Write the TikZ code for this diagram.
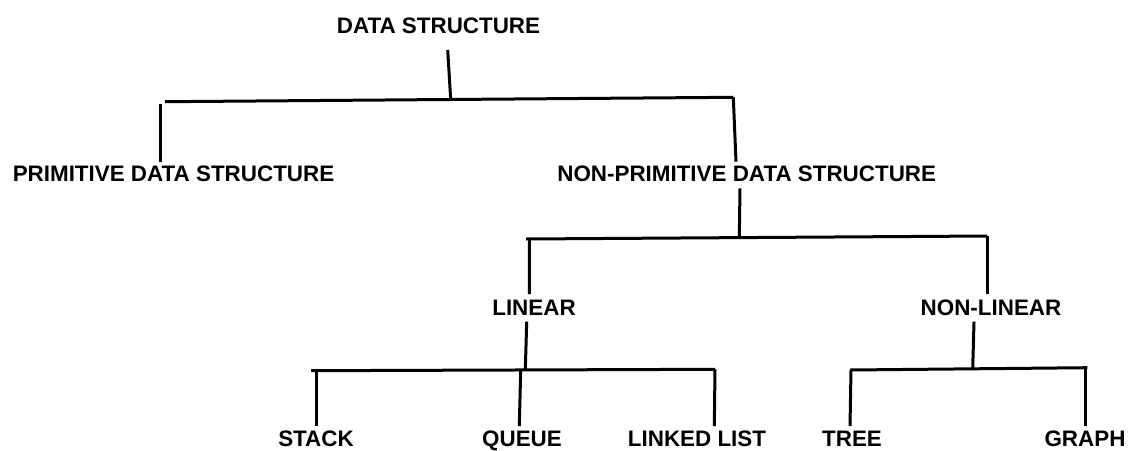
\documentclass[tikz,border=0pt]{standalone}
\usepackage{fontspec}
\setmainfont{Liberation Sans}
\begin{document}
\begin{tikzpicture}[x=1pt,y=-1pt,
  label/.style={font=\fontsize{22.4}{26}\selectfont\bfseries, anchor=base, inner sep=0pt},
  branch/.style={line width=3pt, black}]
\useasboundingbox[fill=white] (0,0) rectangle (1131,450);

% category labels
\node[label] (ds)     at (438.5,33.5)  {DATA STRUCTURE};
\node[label] (pds)    at (173.5,181.7) {PRIMITIVE DATA STRUCTURE};
\node[label] (npds)   at (746.7,181.7) {NON-PRIMITIVE DATA STRUCTURE};
\node[label] (lin)    at (534,315.7)   {LINEAR};
\node[label] (nonlin) at (991,315.7)   {NON-LINEAR};
\node[label] (stack)  at (316,446.5)   {STACK};
\node[label] (queue)  at (522,446.5)   {QUEUE};
\node[label] (llist)  at (697,446.5)   {LINKED LIST};
\node[label] (tree)   at (852,446.5)   {TREE};
\node[label] (graph)  at (1085,446.5)  {GRAPH};

% junction points of the tree
\coordinate (dsTop)    at (447.7,50);
\coordinate (dsJoin)   at (450.7,99.6);
\coordinate (b1L)      at (165,101.7);
\coordinate (b1R)      at (733.3,97.3);
\coordinate (pdsTop)   at (160.7,104);
\coordinate (pdsBot)   at (160.7,161.7);
\coordinate (npdsBot)  at (736,161.7);
\coordinate (npdsTop2) at (740,188.3);
\coordinate (npdsJoin) at (739.3,236.6);
\coordinate (b2L)      at (526,239);
\coordinate (b2R)      at (987.3,236);
\coordinate (linTop)   at (529.5,239);
\coordinate (linBot)   at (529.3,294);
\coordinate (nlBot)    at (987.3,294);
\coordinate (linS)     at (526.7,321.7);
\coordinate (linJoin)  at (525.3,370);
\coordinate (b3L)      at (311,370.7);
\coordinate (b3R)      at (715,369.3);
\coordinate (stTop)    at (316,370.7);
\coordinate (stBot)    at (316,426);
\coordinate (quTop)    at (520.7,370);
\coordinate (quBot)    at (519.3,426);
\coordinate (llBot)    at (714.3,426);
\coordinate (nlS)      at (974,321.7);
\coordinate (nlJoin)   at (972.7,369);
\coordinate (b4L)      at (850,370);
\coordinate (b4R)      at (1087.3,367.7);
\coordinate (trTop)    at (851,370);
\coordinate (trBot)    at (850,426);
\coordinate (grTop)    at (1085.5,367.7);
\coordinate (grBot)    at (1085.5,426);

% level 1
\draw[branch] (dsTop) -- (dsJoin);
\draw[branch] (b1L) -- (b1R);
\draw[branch] (pdsTop) -- (pdsBot);
\draw[branch] (b1R) -- (npdsBot);

% level 2
\draw[branch] (npdsTop2) -- (npdsJoin);
\draw[branch] (b2L) -- (b2R);
\draw[branch] (linTop) -- (linBot);
\draw[branch] (b2R) -- (nlBot);

% linear structures
\draw[branch] (linS) -- (linJoin);
\draw[branch] (b3L) -- (b3R);
\draw[branch] (stTop) -- (stBot);
\draw[branch] (quTop) -- (quBot);
\draw[branch] (b3R) -- (llBot);

% non-linear structures
\draw[branch] (nlS) -- (nlJoin);
\draw[branch] (b4L) -- (b4R);
\draw[branch] (trTop) -- (trBot);
\draw[branch] (grTop) -- (grBot);
\end{tikzpicture}
\end{document}
